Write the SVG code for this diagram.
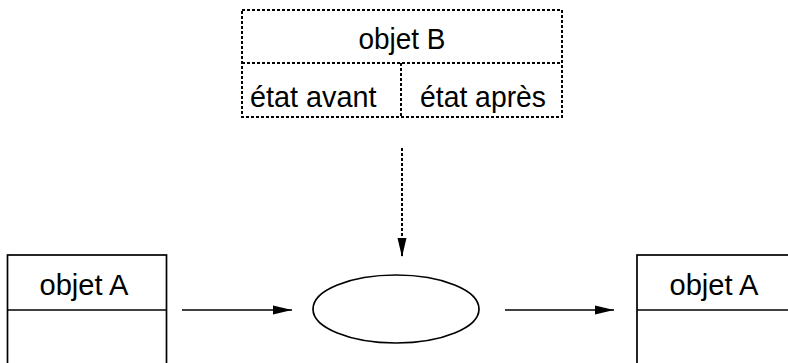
<svg xmlns="http://www.w3.org/2000/svg" width="788" height="363" viewBox="0 0 788 363">
<style>
.solid{fill:none;stroke:#000;stroke-width:1.7}
.dot{fill:none;stroke:#000;stroke-width:2;stroke-dasharray:3 2}
.t{font-family:"Liberation Sans",Arial,sans-serif;font-size:29.5px;fill:#000}
</style>
<defs>
<marker id="ah" markerUnits="userSpaceOnUse" markerWidth="20" markerHeight="10" refX="19" refY="5" orient="auto">
<path d="M0,0.5 L19,5 L0,9.5 Z" fill="#000"/>
</marker>
</defs>
<rect width="788" height="363" fill="#fff"/>
<g id="objetB">
<rect class="dot" x="242" y="10" width="320" height="107"/>
<line class="dot" x1="242" y1="63" x2="562" y2="63"/>
<line class="dot" x1="401" y1="63" x2="401" y2="117"/>
<text class="t" x="358.5" y="49" textLength="87" lengthAdjust="spacingAndGlyphs">objet B</text>
<text class="t" x="250" y="107" textLength="126.5" lengthAdjust="spacingAndGlyphs">état avant</text>
<text class="t" x="420" y="107" textLength="126" lengthAdjust="spacingAndGlyphs">état après</text>
</g>
<g id="objetA1">
<rect class="solid" x="7.5" y="255" width="159" height="120"/>
<line class="solid" x1="7.5" y1="310" x2="166.5" y2="310"/>
<text class="t" x="39.5" y="294.5" textLength="89" lengthAdjust="spacingAndGlyphs">objet A</text>
</g>
<g id="process">
<ellipse class="solid" cx="396" cy="309" rx="83" ry="34"/>
</g>
<g id="objetA2">
<rect class="solid" x="637" y="255" width="170" height="120"/>
<line class="solid" x1="637" y1="310" x2="807" y2="310"/>
<text class="t" x="669.5" y="294.5" textLength="89" lengthAdjust="spacingAndGlyphs">objet A</text>
</g>
<g id="connectors">
<line class="solid" x1="182" y1="310" x2="292" y2="310" marker-end="url(#ah)"/>
<line class="solid" x1="505" y1="310" x2="614" y2="310" marker-end="url(#ah)"/>
<line class="dot" x1="402" y1="148" x2="402" y2="257" marker-end="url(#ah)"/>
</g>
</svg>
